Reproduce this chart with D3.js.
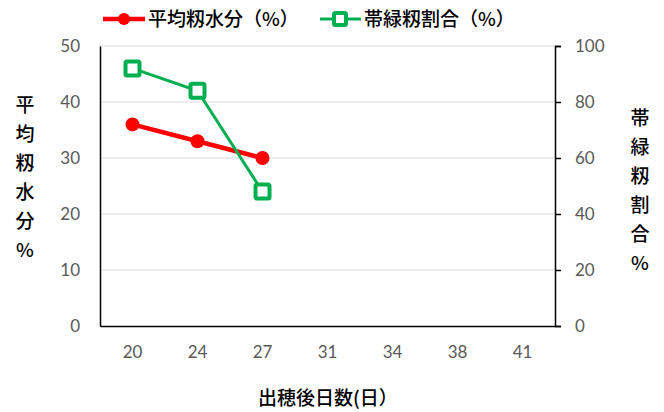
<!DOCTYPE html>
<html>
<head>
<meta charset="utf-8">
<script src="https://cdn.jsdelivr.net/npm/d3@7"></script>
<style>
body{margin:0;background:#fff;}
svg{display:block;}
</style>
</head>
<body>
<div id="chart"></div>
<script>
const days=['20','24','27','31','34','38','41'];
const moisture=[36,33,30];
const greenRatio=[92,84,48];
const leftTicks=[0,10,20,30,40,50];
const rightTicks=[0,20,40,60,80,100];

const width=664, height=412;
const margin={top:46,right:109,bottom:86,left:100};
const jp='"Noto Sans CJK JP", sans-serif';
const num='Lato, "Open Sans", sans-serif';

const svg=d3.select('#chart').append('svg')
  .attr('width',width).attr('height',height);

const x=d3.scaleBand().domain(days).range([margin.left,width-margin.right]);
const yL=d3.scaleLinear().domain([0,50]).range([height-margin.bottom,margin.top]);
const yR=d3.scaleLinear().domain([0,100]).range([height-margin.bottom,margin.top]);

// gridlines
svg.append('g').selectAll('line').data(leftTicks.slice(1)).join('line')
  .attr('x1',margin.left).attr('x2',width-margin.right)
  .attr('y1',d=>yL(d)).attr('y2',d=>yL(d))
  .attr('stroke','#d9d9d9').attr('stroke-width',1);

// left axis
const gl=svg.append('g').attr('transform',`translate(${margin.left},0)`)
  .call(d3.axisLeft(yL).tickValues(leftTicks).tickSize(0).tickPadding(20));
gl.select('.domain').attr('stroke','#000').attr('stroke-width',1.5);
gl.selectAll('text').attr('font-family',num).attr('font-size',17).attr('fill','#595959');

// right axis
const gr=svg.append('g').attr('transform',`translate(${width-margin.right},0)`)
  .call(d3.axisRight(yR).tickValues(rightTicks).tickSize(6).tickPadding(14));
gr.select('.domain').attr('stroke','#000').attr('stroke-width',1.5);
gr.selectAll('.tick line').attr('stroke','#000').attr('stroke-width',1.5);
gr.selectAll('text').attr('font-family',num).attr('font-size',17).attr('fill','#595959');

// bottom axis
const gb=svg.append('g').attr('transform',`translate(0,${height-margin.bottom})`)
  .call(d3.axisBottom(x).tickSize(0).tickPadding(20));
gb.select('.domain').attr('stroke','#000').attr('stroke-width',1.5);
gb.selectAll('text').attr('font-family',num).attr('font-size',17).attr('fill','#595959');

// red series
const cx=(d,i)=>x(days[i])+x.bandwidth()/2;
svg.append('path').datum(moisture)
  .attr('fill','none').attr('stroke','#ff0000').attr('stroke-width',4.5)
  .attr('d',d3.line().x(cx).y(d=>yL(d)));
svg.append('g').selectAll('circle').data(moisture).join('circle')
  .attr('cx',cx).attr('cy',d=>yL(d)).attr('r',7).attr('fill','#ff0000');

// green series
svg.append('path').datum(greenRatio)
  .attr('fill','none').attr('stroke','#00b050').attr('stroke-width',3)
  .attr('d',d3.line().x(cx).y(d=>yR(d)));
svg.append('g').selectAll('rect').data(greenRatio).join('rect')
  .attr('x',(d,i)=>cx(d,i)-7).attr('y',d=>yR(d)-7)
  .attr('width',14).attr('height',14).attr('rx',1.5)
  .attr('fill','#fff').attr('stroke','#00b050').attr('stroke-width',4);

// legend
const lg=svg.append('g');
lg.append('line').attr('x1',103).attr('x2',145).attr('y1',19).attr('y2',19)
  .attr('stroke','#ff0000').attr('stroke-width',4.5);
lg.append('circle').attr('cx',124).attr('cy',19).attr('r',6).attr('fill','#ff0000');
lg.append('text').attr('x',148).attr('y',26).text('平均籾水分（%）')
  .attr('font-family',jp).attr('font-size',19).attr('font-weight',500).attr('fill','#000');
lg.append('line').attr('x1',320).attr('x2',361).attr('y1',19).attr('y2',19)
  .attr('stroke','#00b050').attr('stroke-width',3);
lg.append('rect').attr('x',334).attr('y',13).attr('width',12).attr('height',12).attr('rx',1.5)
  .attr('fill','#fff').attr('stroke','#00b050').attr('stroke-width',4);
lg.append('text').attr('x',364).attr('y',26).text('帯緑籾割合（%）')
  .attr('font-family',jp).attr('font-size',19).attr('font-weight',500).attr('fill','#000');

// axis titles
const leftTitle=['平','均','籾','水','分','%'];
const rightTitle=['帯','緑','籾','割','合','%'];
svg.append('g').selectAll('text').data(leftTitle).join('text')
  .attr('x',25).attr('y',(d,i)=>112+i*29).attr('text-anchor','middle')
  .attr('font-family',jp).attr('font-size',19).attr('font-weight',500).attr('fill','#000').text(d=>d);
svg.append('g').selectAll('text').data(rightTitle).join('text')
  .attr('x',640).attr('y',(d,i)=>125+i*29).attr('text-anchor','middle')
  .attr('font-family',jp).attr('font-size',19).attr('font-weight',500).attr('fill','#000').text(d=>d);
svg.append('text').attr('x',328).attr('y',405).attr('text-anchor','middle')
  .attr('font-family',jp).attr('font-size',19).attr('font-weight',500).attr('fill','#000').text('出穂後日数(日）');
</script>
</body>
</html>
